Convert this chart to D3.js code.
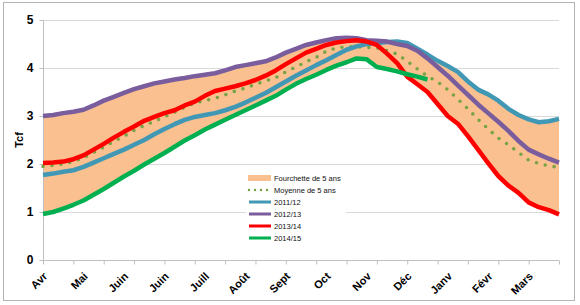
<!DOCTYPE html>
<html>
<head>
<meta charset="utf-8">
<script src="https://cdn.jsdelivr.net/npm/d3@7"></script>
<style>
  body { margin: 0; background: #fff; }
  svg { display: block; font-family: "Liberation Sans", Arial, sans-serif; }
  .axis path, .axis line { stroke: #bfbfbf; }
  .axis text { font-weight: bold; fill: #000; }
</style>
</head>
<body>
<svg width="580" height="305"></svg>
<script>
// semaines avril -> mars (52 points)
const monthLabels = ["Avr", "Mai", "Juin", "Juin", "Juill", "Août", "Sept", "Oct", "Nov", "Déc", "Janv", "Févr", "Mars"];

const bandHigh = [3.00, 3.02, 3.06, 3.09, 3.13, 3.22, 3.32, 3.40, 3.48, 3.56, 3.62, 3.68, 3.72, 3.76, 3.79, 3.83, 3.86, 3.89, 3.95, 4.02,
  4.06, 4.10, 4.14, 4.22, 4.32, 4.40, 4.48, 4.53, 4.58, 4.62, 4.63, 4.62, 4.58, 4.57, 4.55, 4.55, 4.52, 4.40, 4.28, 4.15,
  4.04, 3.92, 3.72, 3.55, 3.45, 3.32, 3.15, 3.02, 2.93, 2.87, 2.89, 2.94];
const bandLow = [0.96, 1.00, 1.07, 1.15, 1.24, 1.36, 1.48, 1.61, 1.74, 1.86, 1.99, 2.11, 2.23, 2.36, 2.49, 2.60, 2.72, 2.82, 2.92, 3.02,
  3.12, 3.22, 3.32, 3.42, 3.55, 3.67, 3.77, 3.86, 3.96, 4.05, 4.12, 4.20, 4.18, 4.02, 3.98, 3.93, 3.82, 3.66, 3.50, 3.25,
  3.00, 2.84, 2.58, 2.30, 2.02, 1.75, 1.55, 1.40, 1.20, 1.10, 1.04, 0.95];
const avg5 = [1.95, 1.97, 2.00, 2.05, 2.13, 2.24, 2.35, 2.47, 2.58, 2.70, 2.80, 2.89, 2.98, 3.08, 3.18, 3.27, 3.32, 3.37, 3.44, 3.52,
  3.58, 3.66, 3.73, 3.80, 3.92, 4.02, 4.13, 4.22, 4.35, 4.42, 4.44, 4.44, 4.43, 4.42, 4.36, 4.29, 4.14, 3.98, 3.83, 3.71,
  3.55, 3.35, 3.15, 2.93, 2.73, 2.54, 2.40, 2.24, 2.08, 2.01, 1.96, 1.93];
const s2011 = [1.77, 1.80, 1.84, 1.87, 1.94, 2.03, 2.12, 2.21, 2.30, 2.40, 2.50, 2.62, 2.73, 2.83, 2.92, 2.98, 3.02, 3.06, 3.12, 3.19,
  3.28, 3.38, 3.48, 3.60, 3.72, 3.84, 3.95, 4.06, 4.16, 4.27, 4.38, 4.45, 4.50, 4.52, 4.54, 4.55, 4.52, 4.40, 4.28, 4.15,
  4.04, 3.92, 3.72, 3.55, 3.45, 3.32, 3.15, 3.02, 2.93, 2.87, 2.89, 2.94];
const s2012 = [3.00, 3.02, 3.06, 3.09, 3.13, 3.22, 3.32, 3.40, 3.48, 3.56, 3.62, 3.68, 3.72, 3.76, 3.79, 3.83, 3.86, 3.89, 3.95, 4.02,
  4.06, 4.10, 4.14, 4.22, 4.32, 4.40, 4.48, 4.53, 4.58, 4.62, 4.63, 4.62, 4.58, 4.57, 4.55, 4.50, 4.46, 4.36, 4.20, 4.02,
  3.84, 3.64, 3.44, 3.24, 3.06, 2.88, 2.69, 2.48, 2.30, 2.20, 2.11, 2.03];
const s2013 = [2.02, 2.03, 2.05, 2.10, 2.18, 2.30, 2.42, 2.55, 2.67, 2.78, 2.90, 2.98, 3.06, 3.12, 3.22, 3.30, 3.42, 3.52, 3.57, 3.62,
  3.68, 3.75, 3.84, 3.95, 4.08, 4.20, 4.32, 4.40, 4.48, 4.53, 4.56, 4.58, 4.55, 4.48, 4.30, 4.10, 3.82, 3.66, 3.50, 3.25,
  3.00, 2.84, 2.58, 2.30, 2.02, 1.75, 1.55, 1.40, 1.20, 1.10, 1.04, 0.95];
const s2014 = [0.96, 1.00, 1.07, 1.15, 1.24, 1.36, 1.48, 1.61, 1.74, 1.86, 1.99, 2.11, 2.23, 2.36, 2.49, 2.60, 2.72, 2.82, 2.92, 3.02,
  3.12, 3.22, 3.32, 3.42, 3.55, 3.67, 3.77, 3.86, 3.96, 4.05, 4.12, 4.20, 4.18, 4.02, 3.98, 3.93, 3.87, 3.82, 3.76];

const svg = d3.select("svg"),
    width = +svg.attr("width"),
    height = +svg.attr("height"),
    plot = { left: 43, right: 559, top: 20, bottom: 260 };

const weeks = bandHigh.map((d, i) => i);

const x = d3.scalePoint().domain(weeks).range([plot.left, plot.right]);
const y = d3.scaleLinear().domain([0, 5]).range([plot.bottom, plot.top]);

// cadre
svg.append("rect")
    .attr("x", 3.5).attr("y", 2.5)
    .attr("width", 571).attr("height", 298)
    .attr("fill", "#fff")
    .attr("stroke", "#b3b3b3");

// grille
svg.append("g")
    .selectAll("line")
    .data([1, 2, 3, 4, 5])
    .enter().append("line")
    .attr("x1", plot.left).attr("x2", plot.right)
    .attr("y1", d => y(d) + 0.5).attr("y2", d => y(d) + 0.5)
    .attr("stroke", "#d9d9d9");

// fourchette
const area = d3.area()
    .x((d, i) => x(i))
    .y0((d, i) => y(bandLow[i]))
    .y1(d => y(d));

svg.append("path")
    .datum(bandHigh)
    .attr("fill", "#fac090")
    .attr("d", area);

const line = d3.line()
    .x((d, i) => x(i))
    .y(d => y(d));

// axes
const xAxis = d3.axisBottom(x)
    .tickValues(weeks.filter(i => i % 3 === 0))
    .tickSize(4)
    .tickFormat("");

svg.append("g")
    .attr("class", "x axis")
    .attr("transform", "translate(0," + (plot.bottom + 0.5) + ")")
    .call(xAxis)
    .call(g => g.select(".domain").attr("d", `M${plot.left},0H${plot.right}`));

svg.append("g")
    .attr("class", "x labels")
    .selectAll("text")
    .data(monthLabels)
    .enter().append("text")
    .attr("transform", (d, i) => `translate(${x(i * 4) + 5},${plot.bottom + 17}) rotate(-45)`)
    .attr("text-anchor", "end")
    .style("font-size", "11px")
    .style("font-weight", "bold")
    .text(d => d);

const yAxis = d3.axisLeft(y)
    .ticks(5)
    .tickSize(4)
    .tickFormat(d3.format("d"));

svg.append("g")
    .attr("class", "y axis")
    .attr("transform", "translate(" + (plot.left + 0.5) + ",0)")
    .call(yAxis)
    .call(g => g.select(".domain").attr("d", `M0,${plot.top}V${plot.bottom}`))
    .call(g => g.selectAll("text").attr("x", -10).style("font-size", "12px"));

svg.append("text")
    .attr("transform", "translate(23,140) rotate(-90)")
    .attr("text-anchor", "middle")
    .style("font-size", "11px")
    .style("font-weight", "bold")
    .text("Tcf");

// series
const series = [
    { name: "Moyenne de 5 ans", data: avg5, color: "#77a345", dots: true },
    { name: "2011/12", data: s2011, color: "#4198b5" },
    { name: "2012/13", data: s2012, color: "#7a5d9c" },
    { name: "2013/14", data: s2013, color: "#ff0000" },
    { name: "2014/15", data: s2014, color: "#00b050" }
];

series.forEach(s => {
    const p = svg.append("path")
        .datum(s.data)
        .attr("class", "line")
        .attr("fill", "none")
        .attr("stroke", s.color)
        .attr("stroke-linejoin", "round")
        .attr("d", line);
    if (s.dots) {
        p.attr("stroke-width", 3.6)
            .attr("stroke-linecap", "round")
            .attr("stroke-dasharray", "0,9");
    } else {
        p.attr("stroke-width", 4.5);
    }
});

// legende
const legend = svg.append("g")
    .attr("class", "legend")
    .attr("transform", "translate(246,171)");

legend.append("rect")
    .attr("width", 100).attr("height", 73)
    .attr("fill", "#fff");

legend.append("rect")
    .attr("x", 2).attr("y", 4)
    .attr("width", 23).attr("height", 6)
    .attr("fill", "#fac090");

legend.append("text")
    .attr("x", 28).attr("y", 10)
    .style("font-size", "7.5px")
    .style("fill", "#111")
    .text("Fourchette de 5 ans");

series.forEach((s, i) => {
    const ly = 19 + i * 12;
    const l = legend.append("line")
        .attr("x1", 3).attr("x2", 25)
        .attr("y1", ly).attr("y2", ly)
        .attr("stroke", s.color);
    if (s.dots) {
        l.attr("stroke-width", 2.5)
            .attr("stroke-linecap", "round")
            .attr("stroke-dasharray", "0,6");
    } else {
        l.attr("stroke-width", 3);
    }
    legend.append("text")
        .attr("x", 28).attr("y", ly + 2.5)
        .style("font-size", "7.5px")
        .style("fill", "#111")
        .text(s.name);
});
</script>
</body>
</html>
